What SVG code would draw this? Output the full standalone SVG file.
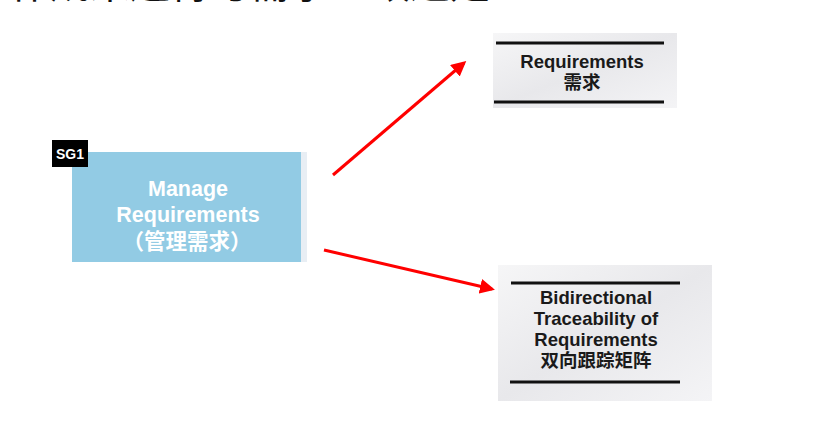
<svg xmlns="http://www.w3.org/2000/svg" width="836" height="438" viewBox="0 0 836 438">
<style>
.cn{font-family:"Liberation Sans","Noto Sans CJK SC",sans-serif;}
.wt{fill:#ffffff;font-weight:bold;font-size:21.5px;text-anchor:middle;}
.bk{fill:#1a1a1a;font-weight:bold;font-size:18.5px;text-anchor:middle;}
.rule{stroke:#111;stroke-width:3;}
.arrow{stroke:#ff0000;stroke-width:3;fill:none;marker-end:url(#ah);}
</style>
<defs>
<marker id="ah" viewBox="0 0 10 10" refX="8" refY="5" markerWidth="5" markerHeight="5" orient="auto" markerUnits="strokeWidth">
<path d="M0,0 L10,5 L0,10 z" fill="#ff0000"/>
</marker>
<linearGradient id="g1" x1="0" y1="0" x2="1" y2="1">
<stop offset="0" stop-color="#f6f6f7"/>
<stop offset="0.5" stop-color="#e8e8eb"/>
<stop offset="1" stop-color="#f4f4f6"/>
</linearGradient>
</defs>
<rect width="836" height="438" fill="#ffffff"/>
<text class="cn" x="-30" y="-2" font-size="40" fill="#111">工作成果还得与需求一致达是</text>
<g id="manage">
<rect x="300" y="152" width="7" height="110" fill="#e8eef4"/>
<rect x="72" y="152" width="229" height="110" fill="#92cbe4"/>
<text class="cn wt" x="188" y="196">Manage</text>
<text class="cn wt" x="188" y="222">Requirements</text>
<text class="cn wt" x="187" y="249">（管理需求）</text>
</g>
<g id="sg1">
<rect x="52" y="140" width="36" height="27" fill="#000"/>
<text class="cn" x="70" y="159" font-size="14" font-weight="bold" fill="#fff" text-anchor="middle">SG1</text>
</g>
<g id="requirements">
<rect x="493" y="33" width="184" height="75" fill="url(#g1)"/>
<line class="rule" x1="496" y1="43" x2="664" y2="43"/>
<line class="rule" x1="494" y1="102" x2="664" y2="102"/>
<text class="cn bk" x="582" y="68">Requirements</text>
<text class="cn bk" x="582" y="89">需求</text>
</g>
<g id="traceability">
<rect x="498" y="265" width="214" height="136" fill="url(#g1)"/>
<line class="rule" x1="511" y1="283" x2="680" y2="283"/>
<line class="rule" x1="510" y1="382" x2="680" y2="382"/>
<text class="cn bk" x="596" y="304">Bidirectional</text>
<text class="cn bk" x="596" y="325">Traceability of</text>
<text class="cn bk" x="596" y="346">Requirements</text>
<text class="cn bk" x="596" y="367">双向跟踪矩阵</text>
</g>
<g id="connectors">
<line class="arrow" x1="333" y1="175" x2="464" y2="63"/>
<line class="arrow" x1="324" y1="250" x2="492" y2="289"/>
</g>
</svg>
